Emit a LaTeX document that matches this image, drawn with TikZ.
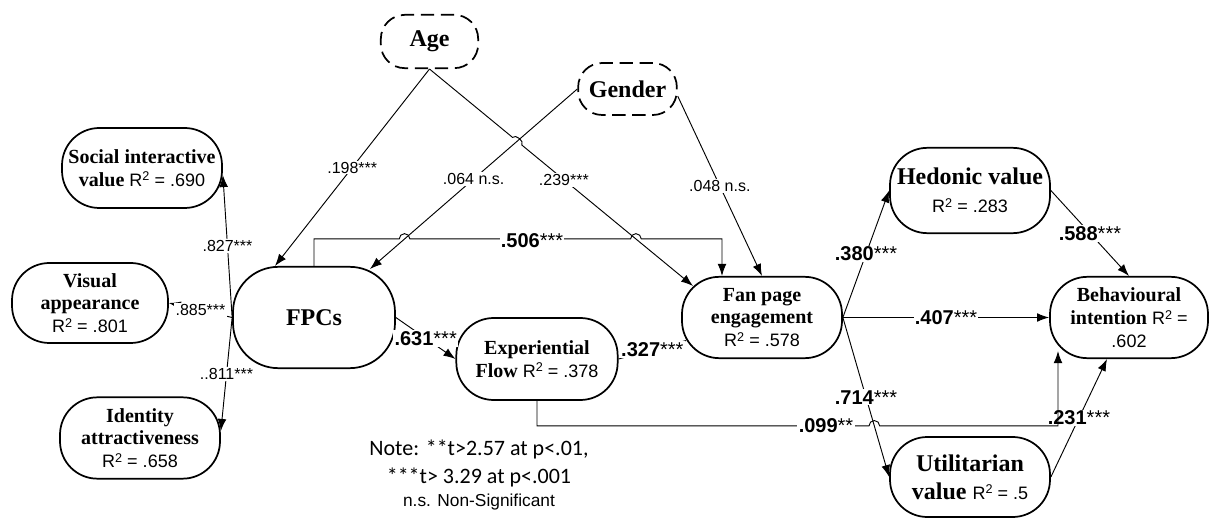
\documentclass[tikz,border=0pt]{standalone}
\usepackage{fontspec}
\setmainfont{Liberation Serif}
\setsansfont{Liberation Sans}
\newfontfamily\notefont{Carlito}
\usetikzlibrary{arrows.meta,calc}

\newcommand{\rsq}[1]{{\sffamily\mdseries\fontsize{13.5}{17}\selectfont R\raisebox{.55ex}{\fontsize{9.5}{9.5}\selectfont 2} = #1}}

\begin{document}
\begin{tikzpicture}
  [x=.75pt,y=-.75pt,
   construct/.style={draw,line width=1.3pt,rounded corners=28pt,align=center,inner sep=1pt,
     font=\bfseries\fontsize{15}{17}\selectfont},
   bigtext/.style={font=\bfseries\fontsize{18}{21}\selectfont},
   control/.style={construct,bigtext,dash pattern=on 10pt off 5pt,rounded corners=18pt},
   link/.style={line width=.7pt,-{Latex[length=9pt,width=6.5pt]}},
   coef/.style={fill=white,inner sep=1pt,font=\sffamily\fontsize{12}{12}\selectfont},
   bcoef/.style={fill=white,inner sep=1pt,font=\sffamily\fontsize{15}{15}\selectfont}]
  \useasboundingbox (0,0) rectangle (1211,520);

  % constructs
  \node[construct,minimum width=120pt,minimum height=60pt] (social) at (142,168) {Social interactive\\value \rsq{.690}};
  \node[construct,minimum width=117pt,minimum height=60pt] (visual) at (90,303) {Visual\\appearance\\\rsq{.801}};
  \node[construct,minimum width=120pt,minimum height=61pt] (ident) at (140,438) {Identity\\attractiveness\\\rsq{.658}};
  \node[construct,bigtext,rounded corners=34pt,minimum width=121.5pt,minimum height=76pt] (fpcs) at (314,317.5) {FPCs};
  \node[control,minimum width=73pt,minimum height=40pt] (age) at (429.5,41.5) {Age};
  \node[control,minimum width=74pt,minimum height=39pt] (gender) at (627.5,89) {Gender};
  \node[construct,minimum width=121pt,minimum height=61.5pt] (flow) at (537,359) {Experiential\\Flow \rsq{.378}};
  \node[construct,minimum width=120pt,minimum height=61pt] (fan) at (762,317.5) {Fan page\\engagement\\\rsq{.578}};
  \node[construct,bigtext,minimum width=120pt,minimum height=64pt] (hedonic) at (970,190.5) {Hedonic value\\\rsq{.283}};
  \node[construct,minimum width=118.5pt,minimum height=61pt] (behav) at (1129,317.5) {Behavioural\\intention \rsq{}\\{\sffamily\mdseries\fontsize{13.5}{17}\selectfont .602}};
  \node[construct,bigtext,minimum width=120pt,minimum height=60pt] (util) at (970,477) {Utilitarian\\value \rsq{.5}};

  % landing points
  \coordinate (fpcsA) at ($(fpcs.north)+(-39,0)$);
  \coordinate (fpcsG) at ($(fpcs.north)+(56,3)$);
  \coordinate (fanA) at ($(fan.north)+(-69,10)$);
  \coordinate (fanM) at ($(fan.north)+(-40,0)$);
  \coordinate (fanF) at ($(fan.west)+(5,23)$);
  \coordinate (behavF) at ($(behav.south)+(-71,-8)$);
  \coordinate (behavU) at ($(behav.south)+(-22,0)$);

  \foreach \from/\to/\lab/\sty in {fpcs.west/social.-5/.827***/coef, fpcs.west/visual.east/.885***/coef,
      fpcs.west/ident.5/..811***/coef, age.south/fpcsA/.198***/coef, gender.west/fpcsG/.064 n.s./coef,
      gender.-8/fan.north/.048 n.s./coef, fpcs.east/flow.west/\textbf{.631}***/bcoef,
      fan.east/hedonic.west/\textbf{.380}***/bcoef, fan.east/behav.west/\textbf{.407}***/bcoef,
      fan.east/util.west/\textbf{.714}***/bcoef, hedonic.east/behav.north/\textbf{.588}***/bcoef,
      util.east/behavU/\textbf{.231}***/bcoef}
    \draw[link] (\from) -- node[\sty] {\lab} (\to);

  \draw[link,-] (flow.east) -- node[bcoef] {\textbf{.327}***} (fanF);

  % age -> engagement, hopping over the gender line
  \coordinate (xAG) at (intersection of age.south--fanA and gender.west--fpcsG);
  \draw[link] (age.south) -- ($(xAG)!4.5pt!(age.south)$) to[bend left=90] ($(xAG)!4.5pt!(fanA)$) -- (fanA);
  \node[coef] (c239) at ($(age.south)!.51!(fanA)$) {.239***};

  % direct effect FPCs -> engagement
  \coordinate (m506a) at ($(fpcs.north)+(0,-27)$);
  \coordinate (m506b) at (fanM |- m506a);
  \coordinate (x1) at (intersection of m506a--m506b and gender.west--fpcsG);
  \coordinate (x2) at (intersection of m506a--m506b and age.south--fanA);
  \draw[link] (fpcs.north) -- (m506a) -- ($(x1)+(-4pt,0)$) arc[start angle=180,end angle=0,radius=4pt]
    -- ($(x2)+(-4pt,0)$) arc[start angle=180,end angle=0,radius=4pt] -- (m506b) -- (fanM);
  \node[bcoef] (c506) at (532,240.5) {\textbf{.506}***};

  % flow -> intention
  \coordinate (m099a) at ($(flow.south)+(0,25)$);
  \coordinate (m099b) at (behavF |- m099a);
  \coordinate (x3) at (intersection of m099a--m099b and fan.east--util.west);
  \draw[link] (flow.south) -- (m099a) -- ($(x3)+(-4pt,0)$) arc[start angle=180,end angle=0,radius=4pt]
    -- (m099b) -- (behavF);
  \node[bcoef] (c099) at (826,426) {\textbf{.099}**};

  \node[align=center,inner sep=0pt,font=\notefont\fontsize{16.5}{21}\selectfont] (note) at (479,475)
    {Note: **t>2.57 at p<.01,\\ ***t> 3.29 at p<.001\\[-4pt] {\sffamily\fontsize{13}{15}\selectfont n.s. Non-Significant}};

\end{tikzpicture}
\end{document}
